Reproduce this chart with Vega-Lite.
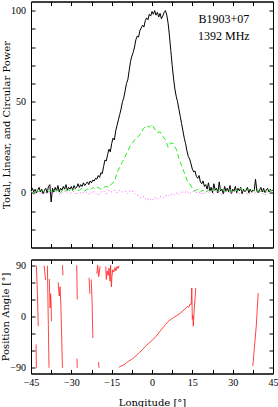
{
  "$schema": "https://vega.github.io/schema/vega-lite/v6.json",
  "padding": {"left": 0, "top": 0.5, "right": 0, "bottom": 0},
  "spacing": 10,
  "config": {
    "font": "Liberation Serif",
    "view": {"stroke": "black", "strokeWidth": 1},
    "axis": {"grid": false, "minExtent": 0, "labelFlush": false, "labelOverlap": false, "domainColor": "black", "domainWidth": 1, "tickColor": "black", "tickSize": -4, "tickWidth": 1, "labelColor": "black", "labelFont": "Liberation Serif", "labelFontSize": 10, "titleFont": "DejaVu Serif", "titleFontSize": 10, "titleFontWeight": "normal", "titleColor": "black", "labelPadding": 9.5, "titlePadding": -1}
  },
  "datasets": {
    "total": [
      {"lon":-45,"val":1.0},{"lon":-44.5,"val":2.5},{"lon":-44,"val":0.5},{"lon":-43.5,"val":2.0},{"lon":-43,"val":0.0},{"lon":-42.5,"val":1.5},{"lon":-42,"val":3.0},{"lon":-41.5,"val":0.5},{"lon":-41,"val":2.0},{"lon":-40.5,"val":-0.5},{"lon":-40,"val":1.5},{"lon":-39.5,"val":2.5},{"lon":-39,"val":0.0},{"lon":-38.5,"val":3.5},{"lon":-38,"val":4.5},{"lon":-37.5,"val":-5.0},{"lon":-37,"val":2.5},{"lon":-36.5,"val":0.5},{"lon":-36,"val":3.0},{"lon":-35.5,"val":1.0},{"lon":-35,"val":4.0},{"lon":-34.5,"val":0.5},{"lon":-34,"val":2.5},{"lon":-33.5,"val":1.5},{"lon":-33,"val":3.5},{"lon":-32.5,"val":2.0},{"lon":-32,"val":4.5},{"lon":-31.5,"val":1.5},{"lon":-31,"val":3.0},{"lon":-30.5,"val":2.0},{"lon":-30,"val":3.5},{"lon":-29.5,"val":1.5},{"lon":-29,"val":4.0},{"lon":-28.5,"val":2.5},{"lon":-28,"val":3.0},{"lon":-27.5,"val":5.0},{"lon":-27,"val":3.0},{"lon":-26.5,"val":4.5},{"lon":-26,"val":3.5},{"lon":-25.5,"val":5.5},{"lon":-25,"val":4.0},{"lon":-24.5,"val":5.0},{"lon":-24,"val":6.0},{"lon":-23.5,"val":4.5},{"lon":-23,"val":6.5},{"lon":-22.5,"val":5.5},{"lon":-22,"val":7.0},{"lon":-21.5,"val":6.5},{"lon":-21,"val":8.0},{"lon":-20.5,"val":7.5},{"lon":-20,"val":9.5},{"lon":-19.5,"val":8.5},{"lon":-19,"val":11.0},{"lon":-18.5,"val":10.5},{"lon":-18,"val":14.5},{"lon":-17.5,"val":18.0},{"lon":-17,"val":17.5},{"lon":-16.5,"val":21.0},{"lon":-16,"val":24.0},{"lon":-15.5,"val":22.5},{"lon":-15,"val":27.0},{"lon":-14.5,"val":30.0},{"lon":-14,"val":29.0},{"lon":-13.5,"val":34.0},{"lon":-13,"val":37.0},{"lon":-12.5,"val":40.0},{"lon":-12,"val":43.0},{"lon":-11.5,"val":46.0},{"lon":-11,"val":50.0},{"lon":-10.5,"val":52.0},{"lon":-10,"val":56.0},{"lon":-9.5,"val":60.0},{"lon":-9,"val":62.0},{"lon":-8.5,"val":67.0},{"lon":-8,"val":72.0},{"lon":-7.5,"val":75.0},{"lon":-7,"val":77.0},{"lon":-6.5,"val":80.0},{"lon":-6,"val":84.0},{"lon":-5.5,"val":86.0},{"lon":-5,"val":85.5},{"lon":-4.5,"val":89.0},{"lon":-4,"val":90.5},{"lon":-3.5,"val":92.0},{"lon":-3,"val":91.0},{"lon":-2.5,"val":94.5},{"lon":-2,"val":96.0},{"lon":-1.5,"val":95.0},{"lon":-1,"val":98.0},{"lon":-0.5,"val":97.0},{"lon":0,"val":99.5},{"lon":0.5,"val":98.0},{"lon":1,"val":100.0},{"lon":1.5,"val":97.5},{"lon":2,"val":99.0},{"lon":2.5,"val":96.5},{"lon":3,"val":98.5},{"lon":3.5,"val":95.5},{"lon":4,"val":97.0},{"lon":4.5,"val":99.0},{"lon":5,"val":100.0},{"lon":5.5,"val":97.5},{"lon":6,"val":93.0},{"lon":6.5,"val":86.0},{"lon":7,"val":78.0},{"lon":7.5,"val":70.0},{"lon":8,"val":63.0},{"lon":8.5,"val":57.0},{"lon":9,"val":53.0},{"lon":9.5,"val":50.0},{"lon":10,"val":46.0},{"lon":10.5,"val":42.0},{"lon":11,"val":38.0},{"lon":11.5,"val":34.0},{"lon":12,"val":30.0},{"lon":12.5,"val":27.0},{"lon":13,"val":23.0},{"lon":13.5,"val":20.0},{"lon":14,"val":18.5},{"lon":14.5,"val":16.0},{"lon":15,"val":13.0},{"lon":15.5,"val":11.5},{"lon":16,"val":12.0},{"lon":16.5,"val":9.0},{"lon":17,"val":8.0},{"lon":17.5,"val":9.5},{"lon":18,"val":6.0},{"lon":18.5,"val":5.0},{"lon":19,"val":6.5},{"lon":19.5,"val":3.5},{"lon":20,"val":4.5},{"lon":20.5,"val":2.0},{"lon":21,"val":5.5},{"lon":21.5,"val":1.0},{"lon":22,"val":3.0},{"lon":22.5,"val":0.0},{"lon":23,"val":5.0},{"lon":23.5,"val":1.5},{"lon":24,"val":2.5},{"lon":24.5,"val":0.0},{"lon":25,"val":6.0},{"lon":25.5,"val":1.0},{"lon":26,"val":2.0},{"lon":26.5,"val":-0.5},{"lon":27,"val":3.5},{"lon":27.5,"val":1.0},{"lon":28,"val":2.5},{"lon":28.5,"val":0.5},{"lon":29,"val":4.0},{"lon":29.5,"val":-0.5},{"lon":30,"val":2.0},{"lon":30.5,"val":1.0},{"lon":31,"val":3.5},{"lon":31.5,"val":0.0},{"lon":32,"val":2.5},{"lon":32.5,"val":1.0},{"lon":33,"val":3.0},{"lon":33.5,"val":-0.5},{"lon":34,"val":2.0},{"lon":34.5,"val":0.5},{"lon":35,"val":1.5},{"lon":35.5,"val":3.0},{"lon":36,"val":0.0},{"lon":36.5,"val":2.0},{"lon":37,"val":0.5},{"lon":37.5,"val":1.5},{"lon":38,"val":1.0},{"lon":38.5,"val":7.5},{"lon":39,"val":1.0},{"lon":39.5,"val":0.0},{"lon":40,"val":1.5},{"lon":40.5,"val":3.0},{"lon":41,"val":0.5},{"lon":41.5,"val":2.5},{"lon":42,"val":0.0},{"lon":42.5,"val":1.5},{"lon":43,"val":2.5},{"lon":43.5,"val":0.5},{"lon":44,"val":2.0},{"lon":44.5,"val":1.0},{"lon":45,"val":1.5}
    ],
    "linear": [
      {"lon":-45,"val":1.0},{"lon":-44,"val":-0.5},{"lon":-43,"val":1.5},{"lon":-42,"val":0.5},{"lon":-41,"val":2.0},{"lon":-40,"val":0.0},{"lon":-39,"val":1.5},{"lon":-38,"val":0.5},{"lon":-37,"val":2.0},{"lon":-36,"val":1.0},{"lon":-35,"val":1.5},{"lon":-34,"val":0.0},{"lon":-33,"val":2.0},{"lon":-32,"val":1.0},{"lon":-31,"val":1.5},{"lon":-30,"val":0.5},{"lon":-29,"val":2.5},{"lon":-28,"val":1.0},{"lon":-27,"val":1.5},{"lon":-26,"val":2.5},{"lon":-25,"val":1.0},{"lon":-24,"val":2.0},{"lon":-23,"val":1.5},{"lon":-22,"val":3.0},{"lon":-21,"val":2.0},{"lon":-20,"val":3.0},{"lon":-19,"val":2.0},{"lon":-18,"val":3.0},{"lon":-17,"val":3.5},{"lon":-16,"val":3.0},{"lon":-15,"val":5.0},{"lon":-14,"val":6.0},{"lon":-13,"val":11.0},{"lon":-12,"val":14.0},{"lon":-11,"val":17.0},{"lon":-10,"val":20.0},{"lon":-9,"val":23.0},{"lon":-8,"val":26.0},{"lon":-7,"val":28.0},{"lon":-6,"val":30.0},{"lon":-5,"val":31.0},{"lon":-4,"val":33.0},{"lon":-3,"val":35.5},{"lon":-2,"val":37.0},{"lon":-1,"val":36.0},{"lon":0,"val":37.5},{"lon":1,"val":35.0},{"lon":2,"val":33.0},{"lon":3,"val":33.5},{"lon":4,"val":31.0},{"lon":5,"val":29.0},{"lon":6,"val":25.0},{"lon":7,"val":27.5},{"lon":8,"val":27.0},{"lon":9,"val":24.0},{"lon":10,"val":19.0},{"lon":11,"val":15.0},{"lon":12,"val":11.0},{"lon":13,"val":7.0},{"lon":14,"val":5.0},{"lon":15,"val":2.5},{"lon":16,"val":1.0},{"lon":17,"val":2.0},{"lon":18,"val":0.5},{"lon":19,"val":1.5},{"lon":20,"val":0.0},{"lon":21,"val":1.5},{"lon":22,"val":0.5},{"lon":23,"val":2.0},{"lon":24,"val":0.0},{"lon":25,"val":1.5},{"lon":26,"val":2.5},{"lon":27,"val":0.5},{"lon":28,"val":1.0},{"lon":29,"val":2.0},{"lon":30,"val":-0.5},{"lon":31,"val":1.5},{"lon":32,"val":1.0},{"lon":33,"val":2.5},{"lon":34,"val":0.5},{"lon":35,"val":1.0},{"lon":36,"val":2.0},{"lon":37,"val":0.0},{"lon":38,"val":1.5},{"lon":39,"val":2.5},{"lon":40,"val":0.5},{"lon":41,"val":1.5},{"lon":42,"val":0.0},{"lon":43,"val":2.0},{"lon":44,"val":1.0},{"lon":45,"val":1.5}
    ],
    "circular": [
      {"lon":-45,"val":0.5},{"lon":-44,"val":-1.0},{"lon":-43,"val":1.0},{"lon":-42,"val":-0.5},{"lon":-41,"val":0.0},{"lon":-40,"val":1.0},{"lon":-39,"val":-1.0},{"lon":-38,"val":0.5},{"lon":-37,"val":-0.5},{"lon":-36,"val":1.0},{"lon":-35,"val":0.0},{"lon":-34,"val":-1.0},{"lon":-33,"val":0.5},{"lon":-32,"val":1.0},{"lon":-31,"val":-0.5},{"lon":-30,"val":0.0},{"lon":-29,"val":1.0},{"lon":-28,"val":-1.0},{"lon":-27,"val":0.5},{"lon":-26,"val":-0.5},{"lon":-25,"val":1.0},{"lon":-24,"val":0.0},{"lon":-23,"val":-1.0},{"lon":-22,"val":1.0},{"lon":-21,"val":0.0},{"lon":-20,"val":-1.5},{"lon":-19,"val":0.5},{"lon":-18,"val":1.0},{"lon":-17,"val":-0.5},{"lon":-16,"val":1.5},{"lon":-15,"val":0.5},{"lon":-14,"val":1.5},{"lon":-13,"val":0.0},{"lon":-12,"val":1.5},{"lon":-11,"val":0.5},{"lon":-10,"val":1.0},{"lon":-9,"val":-0.5},{"lon":-8,"val":1.5},{"lon":-7,"val":0.5},{"lon":-6,"val":-1.0},{"lon":-5,"val":-1.5},{"lon":-4,"val":-3.0},{"lon":-3,"val":-2.0},{"lon":-2,"val":-4.0},{"lon":-1,"val":-3.0},{"lon":0,"val":-4.5},{"lon":1,"val":-2.5},{"lon":2,"val":-3.5},{"lon":3,"val":-2.0},{"lon":4,"val":-3.0},{"lon":5,"val":-1.5},{"lon":6,"val":-2.0},{"lon":7,"val":-0.5},{"lon":8,"val":-1.5},{"lon":9,"val":0.0},{"lon":10,"val":-1.0},{"lon":11,"val":0.5},{"lon":12,"val":0.0},{"lon":13,"val":1.0},{"lon":14,"val":-0.5},{"lon":15,"val":0.5},{"lon":16,"val":1.0},{"lon":17,"val":-0.5},{"lon":18,"val":0.5},{"lon":19,"val":-1.0},{"lon":20,"val":1.0},{"lon":21,"val":0.0},{"lon":22,"val":1.5},{"lon":23,"val":-0.5},{"lon":24,"val":0.5},{"lon":25,"val":1.0},{"lon":26,"val":-1.0},{"lon":27,"val":0.5},{"lon":28,"val":1.5},{"lon":29,"val":-0.5},{"lon":30,"val":0.0},{"lon":31,"val":1.0},{"lon":32,"val":-1.0},{"lon":33,"val":0.5},{"lon":34,"val":1.5},{"lon":35,"val":0.0},{"lon":36,"val":-1.0},{"lon":37,"val":1.0},{"lon":38,"val":0.5},{"lon":39,"val":-0.5},{"lon":40,"val":1.0},{"lon":41,"val":0.0},{"lon":42,"val":-1.5},{"lon":43,"val":0.5},{"lon":44,"val":1.0},{"lon":45,"val":0.0}
    ],
    "labels": [
      {"lon":26.7,"val":95.5,"text":"B1903+07"},
      {"lon":26.7,"val":86.3,"text":"1392 MHz"}
    ],
    "pa": [
      {"seg":"a","lon":-43.0,"pa":89},{"seg":"a","lon":-42.6,"pa":40},{"seg":"a","lon":-42.3,"pa":-17},
      {"seg":"b","lon":-43.1,"pa":-49},{"seg":"b","lon":-43.0,"pa":-90},
      {"seg":"c","lon":-40.1,"pa":89},{"seg":"c","lon":-39.6,"pa":64},
      {"seg":"d","lon":-38.9,"pa":89},{"seg":"d","lon":-38.3,"pa":-90},
      {"seg":"e","lon":-38.2,"pa":66},{"seg":"e","lon":-37.9,"pa":15},{"seg":"e","lon":-37.7,"pa":40},{"seg":"e","lon":-37.5,"pa":20},{"seg":"e","lon":-37.4,"pa":-8},
      {"seg":"f","lon":-34.9,"pa":60},{"seg":"f","lon":-34.5,"pa":36},{"seg":"f","lon":-34.2,"pa":52},{"seg":"f","lon":-33.9,"pa":20},{"seg":"f","lon":-33.3,"pa":-90},
      {"seg":"g","lon":-33.3,"pa":90},{"seg":"g","lon":-33.1,"pa":72},
      {"seg":"h","lon":-28.0,"pa":90},{"seg":"h","lon":-27.8,"pa":30},
      {"seg":"i","lon":-27.9,"pa":-74},{"seg":"i","lon":-27.8,"pa":-90},
      {"seg":"j","lon":-23.4,"pa":68},{"seg":"j","lon":-23.1,"pa":40},
      {"seg":"k","lon":-22.6,"pa":65},{"seg":"k","lon":-22.3,"pa":30},{"seg":"k","lon":-22.0,"pa":-38},
      {"seg":"l","lon":-20.5,"pa":75},{"seg":"l","lon":-20.2,"pa":90},{"seg":"l","lon":-19.8,"pa":70},{"seg":"l","lon":-19.3,"pa":88},
      {"seg":"m","lon":-19.9,"pa":-80},{"seg":"m","lon":-19.7,"pa":-90},
      {"seg":"n","lon":-17.2,"pa":88},{"seg":"n","lon":-17.0,"pa":65},{"seg":"n","lon":-16.7,"pa":80},{"seg":"n","lon":-16.3,"pa":72},{"seg":"n","lon":-16.0,"pa":85},{"seg":"n","lon":-15.6,"pa":62},{"seg":"n","lon":-15.4,"pa":90},{"seg":"n","lon":-15.1,"pa":52},{"seg":"n","lon":-14.9,"pa":70},{"seg":"n","lon":-14.6,"pa":82},{"seg":"n","lon":-14.2,"pa":78},{"seg":"n","lon":-13.8,"pa":86},{"seg":"n","lon":-13.4,"pa":80},{"seg":"n","lon":-13.0,"pa":88},{"seg":"n","lon":-12.6,"pa":84},{"seg":"n","lon":-12.2,"pa":89},
      {"seg":"o","lon":-12.3,"pa":-89},{"seg":"o","lon":-11.5,"pa":-87},{"seg":"o","lon":-10.5,"pa":-85},{"seg":"o","lon":-9.5,"pa":-81},{"seg":"o","lon":-8.6,"pa":-78},{"seg":"o","lon":-7.5,"pa":-75},{"seg":"o","lon":-6.5,"pa":-71},{"seg":"o","lon":-5.5,"pa":-67},{"seg":"o","lon":-4.9,"pa":-64},{"seg":"o","lon":-3.5,"pa":-58},{"seg":"o","lon":-2.4,"pa":-52},{"seg":"o","lon":-1.2,"pa":-47},{"seg":"o","lon":0.0,"pa":-42},{"seg":"o","lon":1.5,"pa":-35},{"seg":"o","lon":3.3,"pa":-24},{"seg":"o","lon":5.0,"pa":-14},{"seg":"o","lon":6.0,"pa":-9},{"seg":"o","lon":7.0,"pa":-5},{"seg":"o","lon":8.0,"pa":-2},{"seg":"o","lon":9.0,"pa":1},{"seg":"o","lon":10.0,"pa":4},{"seg":"o","lon":10.8,"pa":7},{"seg":"o","lon":12.0,"pa":12},{"seg":"o","lon":12.6,"pa":15},{"seg":"o","lon":13.2,"pa":18},{"seg":"o","lon":13.6,"pa":16},{"seg":"o","lon":14.2,"pa":22},{"seg":"o","lon":14.6,"pa":21},{"seg":"o","lon":14.8,"pa":50},{"seg":"o","lon":15.0,"pa":-5},{"seg":"o","lon":15.2,"pa":2},{"seg":"o","lon":15.35,"pa":-17},{"seg":"o","lon":15.7,"pa":12},{"seg":"o","lon":16.3,"pa":50},
      {"seg":"p","lon":37.5,"pa":-87},{"seg":"p","lon":38.8,"pa":-15},{"seg":"p","lon":39.5,"pa":41}
    ]
  },
  "vconcat": [
    {
      "width": 242,
      "height": 246,
      "layer": [
        {
          "data": {"name": "total"},
          "mark": {"type": "line", "color": "black", "strokeWidth": 1},
          "encoding": {
            "x": {"field": "lon", "type": "quantitative", "scale": {"domain": [-45, 45], "nice": false, "zero": false},
                  "axis": {"orient": "bottom", "title": null, "labels": false, "values": [-45,-37.5,-30,-22.5,-15,-7.5,0,7.5,15,22.5,30,37.5,45]}},
            "y": {"field": "val", "type": "quantitative", "scale": {"domain": [-30, 105], "nice": false, "zero": false},
                  "axis": {"orient": "left", "title": "Total, Linear, and Circular Power", "values": [-20,-10,0,10,20,30,40,50,60,70,80,90,100], "labelExpr": "datum.value % 50 === 0 ? datum.label : ''"}}
          }
        },
        {
          "data": {"name": "linear"},
          "mark": {"type": "line", "color": "#22ee22", "strokeWidth": 1, "strokeDash": [5, 3]},
          "encoding": {
            "x": {"field": "lon", "type": "quantitative", "scale": {"domain": [-45, 45], "nice": false, "zero": false},
                  "axis": {"orient": "top", "title": null, "labels": false, "values": [-45,-37.5,-30,-22.5,-15,-7.5,0,7.5,15,22.5,30,37.5,45]}},
            "y": {"field": "val", "type": "quantitative", "scale": {"domain": [-30, 105], "nice": false, "zero": false},
                  "axis": {"orient": "right", "title": null, "labels": false, "values": [-20,-10,0,10,20,30,40,50,60,70,80,90,100]}}
          }
        },
        {
          "data": {"name": "circular"},
          "mark": {"type": "line", "color": "#ff44ff", "strokeWidth": 1, "strokeDash": [1, 2.5]},
          "encoding": {
            "x": {"field": "lon", "type": "quantitative", "scale": {"domain": [-45, 45], "nice": false, "zero": false}, "axis": null},
            "y": {"field": "val", "type": "quantitative", "scale": {"domain": [-30, 105], "nice": false, "zero": false}, "axis": null}
          }
        },
        {
          "data": {"name": "labels"},
          "mark": {"type": "text", "font": "Liberation Serif", "fontSize": 12, "color": "black", "align": "center", "baseline": "middle"},
          "encoding": {
            "x": {"field": "lon", "type": "quantitative", "scale": {"domain": [-45, 45], "nice": false, "zero": false}, "axis": null},
            "y": {"field": "val", "type": "quantitative", "scale": {"domain": [-30, 105], "nice": false, "zero": false}, "axis": null},
            "text": {"field": "text"}
          }
        }
      ],
      "resolve": {"axis": {"x": "independent", "y": "independent"}}
    },
    {
      "width": 242,
      "height": 114,
      "layer": [
        {
          "data": {"name": "pa"},
          "mark": {"type": "line", "color": "#ff3030", "strokeWidth": 0.9},
          "encoding": {
            "x": {"field": "lon", "type": "quantitative", "scale": {"domain": [-45, 45], "nice": false, "zero": false},
                  "axis": {"orient": "bottom", "title": "Longitude [°]", "labelPadding": 8, "titlePadding": 9.5, "values": [-45,-37.5,-30,-22.5,-15,-7.5,0,7.5,15,22.5,30,37.5,45], "labelExpr": "datum.value % 15 === 0 ? datum.label : ''"}},
            "y": {"field": "pa", "type": "quantitative", "scale": {"domain": [-100, 100], "nice": false, "zero": false},
                  "axis": {"orient": "left", "title": "Position Angle [°]", "values": [-90,-60,-30,0,30,60,90], "labelExpr": "datum.value % 90 === 0 ? datum.label : ''"}},
            "detail": {"field": "seg"}
          }
        },
        {
          "data": {"name": "pa"},
          "mark": {"type": "line", "opacity": 0},
          "encoding": {
            "x": {"field": "lon", "type": "quantitative", "scale": {"domain": [-45, 45], "nice": false, "zero": false},
                  "axis": {"orient": "top", "title": null, "labels": false, "values": [-45,-37.5,-30,-22.5,-15,-7.5,0,7.5,15,22.5,30,37.5,45]}},
            "y": {"field": "pa", "type": "quantitative", "scale": {"domain": [-100, 100], "nice": false, "zero": false},
                  "axis": {"orient": "right", "title": null, "labels": false, "values": [-90,-60,-30,0,30,60,90]}},
            "detail": {"field": "seg"}
          }
        }
      ],
      "resolve": {"axis": {"x": "independent", "y": "independent"}}
    }
  ]
}
